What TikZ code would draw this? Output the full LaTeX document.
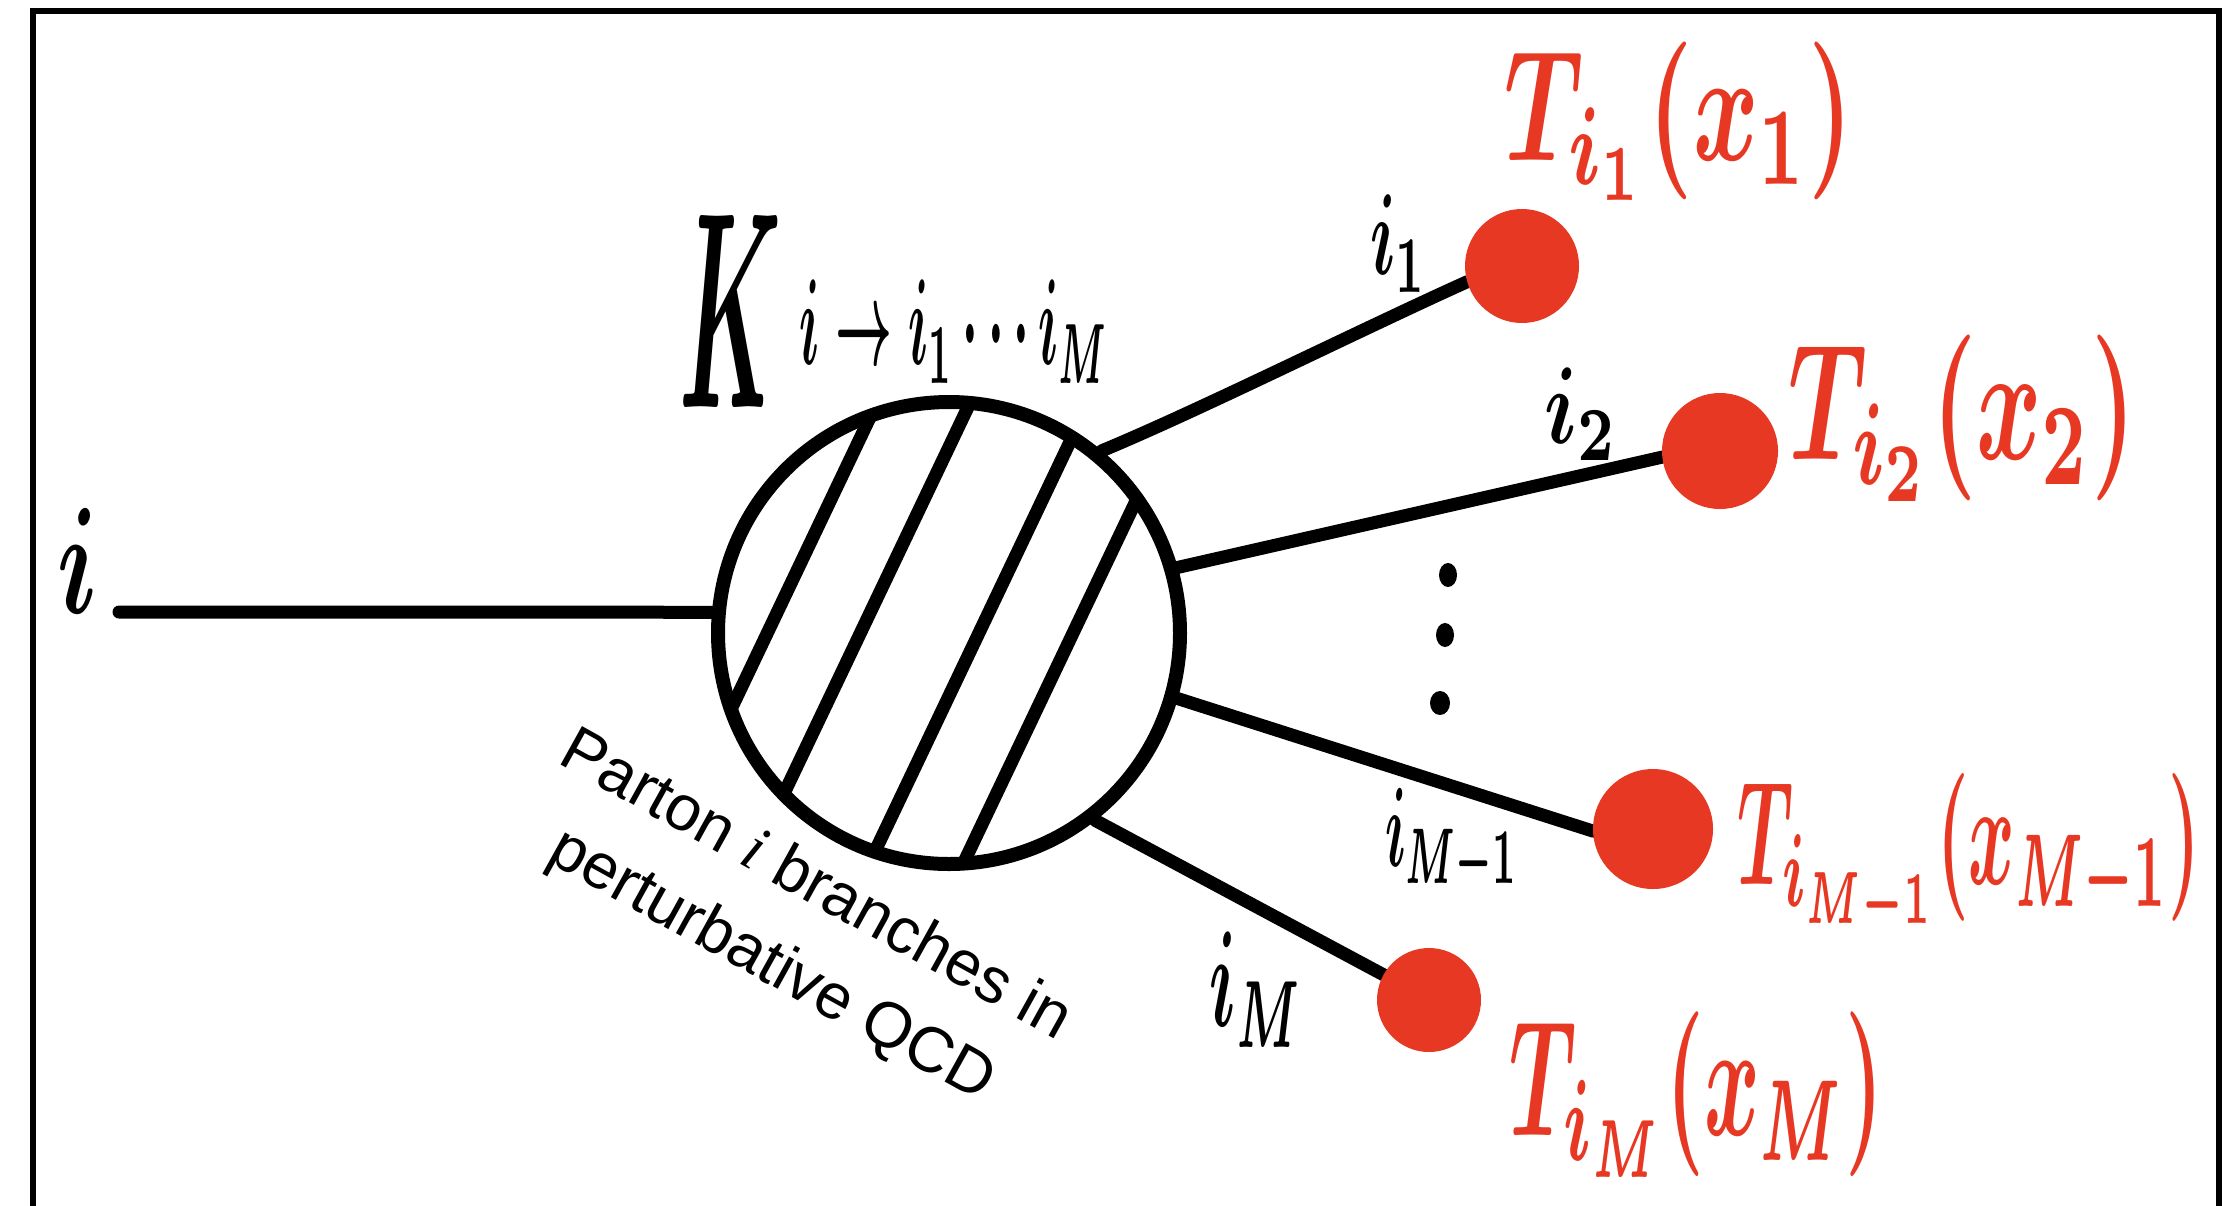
\documentclass[tikz,border=0pt]{standalone}
\usepackage{fontspec}
\setsansfont{Liberation Sans}
\newfontfamily\capserif{Liberation Serif}
\usepackage{graphicx}
\definecolor{dotred}{RGB}{231,56,36}
\pgfdeclarelayer{bg}
\pgfsetlayers{bg,main}
\tikzset{
  wire/.style={line width=13pt, line cap=round},
  hatchline/.style={line width=13pt},
  reddot/.style={circle, fill=dotred, inner sep=0pt, outer sep=0pt},
  hwlabel/.style={inner sep=0pt, outer sep=0pt},
  redlabel/.style={hwlabel, text=dotred},
}
\newcommand\fitlab[3]{\resizebox*{#1pt}{#2pt}{{\boldmath$#3$}}}
\begin{document}
\begin{tikzpicture}[x=1pt,y=-1pt]
\path[use as bounding box] (0,0) rectangle (2223,1205);
\clip (0,0) rectangle (2223,1205);
% frame
\draw[line width=6pt] (33,1260) -- (33,11) -- (2219,11) -- (2219,1260);

% blob
\begin{scope}
  \clip (949,633) circle[radius=231];
  \draw[hatchline] (929.9,291.6) -- (671.9,833.4);
  \draw[hatchline] (1005.8,327.7) -- (747.8,869.5);
  \draw[hatchline] (1102.4,373.7) -- (844.4,915.5);
  \draw[hatchline] (1179.1,410.3) -- (921.1,952.1);
\end{scope}
\node[circle, draw, line width=14pt, minimum size=462pt, inner sep=0pt] (blob) at (949,633) {};

% red dots
\node[reddot, minimum size=114pt] (d1) at (1522,266) {};
\node[reddot, minimum size=116pt] (d2) at (1720,451) {};
\node[reddot, minimum size=120pt] (d3) at (1653,829) {};
\node[reddot, minimum size=104pt] (d4) at (1429,1000) {};

% connectors
\coordinate (istart) at (119,612);
\begin{pgfonlayer}{bg}
\draw[wire] (istart) -- (blob.175);
\draw[wire] (blob.50) .. controls (1200,410) and (1360,330) .. (d1.196);
\draw[wire] (blob.16) -- (d2.186);
\draw[wire] (blob.-16) -- (d3.182);
\draw[wire] (blob.-52) -- (d4.151);
\end{pgfonlayer}

% vertical ellipsis
\fill (1448,575) ellipse[x radius=9, y radius=12];
\fill (1445,635) ellipse[x radius=9, y radius=12];
\fill (1440,703) ellipse[x radius=10, y radius=12];

% black labels
\node[hwlabel] (labi) at (78,560.5) {\fitlab{40}{105}{i}};
\node[hwlabel] (labi1) at (1398.5,243.5) {\fitlab{57}{97}{i_1}};
\node[hwlabel] (labi2) at (1581,414) {\fitlab{74}{92}{i_2}};
\node[hwlabel] (labiM1) at (1451.5,842.5) {\fitlab{133}{109}{i_{M-1}}};
\node[hwlabel] (labiM) at (1256.5,989.5) {\fitlab{93}{115}{i_M}};
\node[hwlabel] (labK) at (731,311) {\fitlab{102}{192}{K}};
\node[hwlabel] (labKsub) at (954.5,331.5) {\fitlab{309}{103}{i\to i_1\cdots i_M}};

% red labels
\node[redlabel] (T1) at (1679,121) {\fitlab{348}{158}{T_{i_1}(x_1)}};
\node[redlabel] (T2) at (1962.5,418) {\fitlab{347}{166}{T_{i_2}(x_2)}};
\node[redlabel] (T3) at (1969,857) {\fitlab{462}{168}{T_{i_{M-1}}(x_{M-1})}};
\node[redlabel] (T4) at (1696.5,1094.5) {\fitlab{373}{165}{T_{i_M}(x_M)}};

% caption
\node[hwlabel, rotate=-29, align=center, font=\sffamily\fontsize{64}{91}\selectfont] (caption) at (793,927) {Parton {\capserif\itshape i} branches in\\perturbative QCD};
\end{tikzpicture}
\end{document}
